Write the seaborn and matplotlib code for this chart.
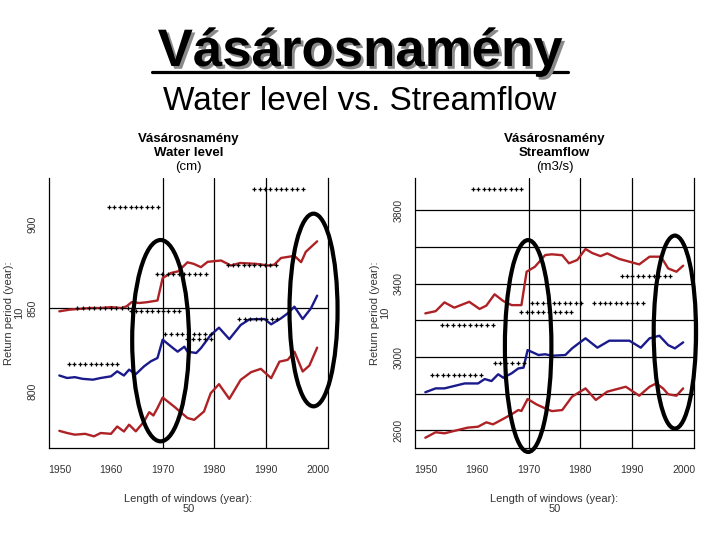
import numpy as np
import pandas as pd
import matplotlib
matplotlib.use("Agg")
import matplotlib.pyplot as plt
import seaborn as sns
from matplotlib.patches import Ellipse
from matplotlib.lines import Line2D
import matplotlib.patheffects as pe

# ---------------- data: water level (cm) ----------------
wl_high_years = [1950, 1952, 1954, 1956, 1958, 1960, 1962, 1963, 1964, 1965.5, 1967, 1969, 1970,
                 1971.6, 1973, 1974.8, 1976, 1977.4, 1978.7, 1981.3, 1983.2, 1985, 1988, 1990.5,
                 1991.6, 1992.9, 1995.5, 1996.8, 1997.7, 1999.9]
wl_high_vals = [848, 849, 849.5, 850, 850, 850.5, 850, 851, 853.5, 853, 853.5, 854.5, 868,
                871, 872, 877.4, 876.5, 874.5, 877.7, 878.5, 875.5, 877, 876.5, 875.5,
                876, 880, 881.3, 877.5, 883.7, 890]

wl_mid_years = [1950, 1951.5, 1953, 1954.5, 1956.5, 1958, 1960, 1961.2, 1962.5, 1963.5, 1964.8,
                1966.4, 1967.7, 1969, 1970, 1971.9, 1972.9, 1974.2, 1974.8, 1976.5, 1977.4,
                1979.3, 1980.9, 1982.9, 1985.1, 1986.8, 1989.7, 1991, 1992.9, 1994.2, 1995.5,
                1997.1, 1998.7, 1999.9]
wl_mid_vals = [809.5, 808, 808.5, 807.5, 807, 808, 809, 812, 809.5, 813, 810.3,
               815, 818, 820, 831, 826.2, 823.8, 826.8, 823.8, 823, 825.9,
               833.8, 838.2, 831.3, 839.8, 843.2, 843.4, 840.2, 843.8, 846.8, 850.8,
               843.4, 849.8, 857.4]

wl_low_years = [1950, 1951.5, 1953, 1955, 1956.7, 1958, 1960, 1961.2, 1962.5, 1963.5, 1964.8,
                1966.4, 1967.4, 1968.2, 1969, 1970, 1972.2, 1974.8, 1976.1, 1978, 1979.3,
                1980.9, 1982.9, 1985.1, 1987.1, 1989, 1991, 1992.6, 1994.2, 1995.5, 1997.1,
                1998.4, 1999.9]
wl_low_vals = [776.3, 775, 774, 774.5, 773, 775, 774.5, 778.9, 775.9, 780, 776,
               781.9, 787.5, 785.5, 790, 796.3, 790.9, 784, 782.9, 787.9, 798.9,
               804.3, 795.5, 806.9, 811.5, 813.5, 807.9, 817.8, 818.9, 823.8, 811.9,
               815.5, 826.2]

# dotted reference segments (start year, end year, value, number of dots)
wl_seg_start = [1959.6, 1968.9, 1953.5, 1963.8, 1970.5, 1974.8, 1951.9, 1984.8, 1982.6, 1987.7]
wl_seg_end = [1969.0, 1978.3, 1963.2, 1973.2, 1979.3, 1979.3, 1961.2, 1992.2, 1991.9, 1997.1]
wl_seg_val = [910.7, 870.2, 850.0, 848.2, 834.4, 831.4, 816.3, 843.4, 875.7, 921.7]
wl_seg_n = [10, 10, 10, 10, 9, 5, 10, 8, 10, 10]

# highlight ellipses (centre year, centre value, width in years, height in units)
wl_ell_x = [1969.6, 1999.2]
wl_ell_y = [830.4, 848.8]
wl_ell_w = [11.0, 9.3]
wl_ell_h = [120.8, 115.6]

# ---------------- data: streamflow (m3/s) ----------------
q_high_years = [1950, 1952, 1953.7, 1955.6, 1958.5, 1960.5, 1961.8, 1963.4, 1965.1, 1966.7, 1968.6,
                1969.6, 1971.2, 1973.2, 1974.5, 1976.5, 1977.8, 1979.4, 1981, 1982.3, 1983.9,
                1985.2, 1987.5, 1991.4, 1993.4, 1995.6, 1997, 1998.6, 1999.9]
q_high_vals = [3238, 3250, 3298, 3269, 3301, 3262, 3280, 3342, 3305, 3283, 3283,
               3465, 3492, 3556, 3560, 3555, 3511, 3529, 3589, 3567, 3550,
               3565, 3535, 3505, 3547, 3547, 3483, 3465, 3498]

q_mid_years = [1950, 1952, 1953.7, 1956.3, 1957.6, 1960.2, 1961.5, 1962.8, 1964.1, 1965.1, 1966.7,
               1968, 1969, 1969.8, 1971.9, 1973.2, 1974.5, 1977.1, 1978.4, 1979.7, 1981,
               1983.3, 1985.6, 1989.5, 1991.7, 1993.4, 1995.3, 1997, 1998.3, 1999.9]
q_mid_vals = [2808, 2829, 2829, 2847, 2856, 2856, 2880, 2869, 2906, 2887, 2911,
              2938, 2942, 3038, 3011, 3015, 3007, 3011, 3047, 3075, 3102,
              3051, 3089, 3089, 3051, 3102, 3116, 3065, 3047, 3080]

q_low_years = [1950, 1952, 1953.7, 1956.3, 1958.2, 1960.2, 1961.8, 1963.1, 1964.7, 1966.7, 1968,
               1968.6, 1969.8, 1971.5, 1973.2, 1974.5, 1976.5, 1978.4, 1981, 1983, 1985.2,
               1988.8, 1991.4, 1993.4, 1994.7, 1996, 1997, 1998.6, 1999.9]
q_low_vals = [2560, 2590, 2584, 2602, 2615, 2620, 2644, 2633, 2657, 2688, 2711,
              2706, 2771, 2742, 2720, 2705, 2711, 2784, 2829, 2766, 2811,
              2838, 2789, 2838, 2856, 2829, 2797, 2789, 2829]

q_seg_start = [1959.2, 1953.2, 1951.3, 1963.4, 1970.6, 1968.6, 1982.7, 1988.0]
q_seg_end = [1968.6, 1963.0, 1960.7, 1969.0, 1980.2, 1978.2, 1992.1, 1997.4]
q_seg_val = [3916, 3174, 2902, 2966, 3294, 3245, 3294, 3441]
q_seg_n = [10, 10, 10, 6, 10, 10, 10, 10]

q_ell_x = [1969.9, 1998.3]
q_ell_y = [3060, 3136]
q_ell_w = [9.0, 8.2]
q_ell_h = [1155, 1052]

x_ticks = [1950, 1960, 1970, 1980, 1990, 2000]
v_grid = [1970, 1980, 1990]
wl_yticks = [800, 850, 900]
wl_hgrid = [850]
q_yticks = [2600, 3000, 3400, 3800]
q_hgrid = [2600, 2800, 3000, 3200, 3400, 3600, 3800]

RED = "#AE2226"
BLUE = "#1A1A8C"

sns.set_theme(style="white")
plt.rcParams['font.family'] = ['Liberation Sans', 'DejaVu Sans']

fig = plt.figure(figsize=(7.2, 5.4), dpi=100)
fig.patch.set_facecolor("white")

W, H = 720, 540
ax1 = fig.add_axes([49 / W, 92 / H, 279 / W, 270 / H])
ax2 = fig.add_axes([415 / W, 92 / H, 279 / W, 270 / H])


def draw_panel(ax, series, seg, ell, yticks, hgrid, ylim, title_lines):
    for yrs, vals, col in series:
        df = pd.DataFrame({"year": yrs, "value": vals})
        sns.lineplot(data=df, x="year", y="value", color=col, lw=1.7,
                     estimator=None, ax=ax)
    for vx in v_grid:
        ax.axvline(vx, color="black", lw=0.9, zorder=1)
    for hy in hgrid:
        ax.axhline(hy, color="black", lw=0.9, zorder=1)
    s0, s1, sv, sn = seg
    for a, b, v, n in zip(s0, s1, sv, sn):
        xs = np.linspace(a, b, n)
        ax.plot(xs, [v] * n, ls="none", marker="+", ms=2.6, mew=0.9,
                color="black", zorder=4)
    ex, ey, ew, eh = ell
    for cx, cy, w_, h_ in zip(ex, ey, ew, eh):
        ax.add_patch(Ellipse((cx, cy), w_, h_, fill=False, edgecolor="black",
                             lw=3.0, clip_on=False, zorder=5))
    ax.set_xlim(1948, 2002)
    ax.set_ylim(*ylim)
    ax.set_xticks(x_ticks)
    ax.set_yticks(yticks)
    ax.set_xlabel("")
    ax.set_ylabel("")
    ax.tick_params(axis="both", length=0, labelsize=7.5, colors="#333333")
    ax.tick_params(axis="x", pad=12)
    ax.tick_params(axis="y", pad=8, labelrotation=90)
    for lab in ax.get_yticklabels():
        lab.set_verticalalignment("center")
    ax.spines["top"].set_visible(False)
    for sp in ["left", "bottom", "right"]:
        ax.spines[sp].set_visible(True)
        ax.spines[sp].set_color("black")
        ax.spines[sp].set_linewidth(0.9)
    ax.grid(False)
    ax.set_facecolor("white")

    pos = ax.get_position()
    cx = (pos.x0 + pos.x1) / 2
    ys = [142, 156, 170]
    weights = ["bold", "bold", "normal"]
    for t, yy, wt in zip(title_lines, ys, weights):
        fig.text(cx, 1 - yy / H, t, ha="center", va="baseline", fontsize=9.5,
                 fontweight=wt, color="black")
    fig.text(cx, 1 - 504 / H, "Length of windows (year):\n50", ha="center",
             va="center", fontsize=8, color="#333333", linespacing=1.1)


draw_panel(ax1,
           [(wl_high_years, wl_high_vals, RED), (wl_mid_years, wl_mid_vals, BLUE),
            (wl_low_years, wl_low_vals, RED)],
           (wl_seg_start, wl_seg_end, wl_seg_val, wl_seg_n),
           (wl_ell_x, wl_ell_y, wl_ell_w, wl_ell_h),
           wl_yticks, wl_hgrid, (766, 928),
           ["Vásárosnamény", "Water level", "(cm)"])

draw_panel(ax2,
           [(q_high_years, q_high_vals, RED), (q_mid_years, q_mid_vals, BLUE),
            (q_low_years, q_low_vals, RED)],
           (q_seg_start, q_seg_end, q_seg_val, q_seg_n),
           (q_ell_x, q_ell_y, q_ell_w, q_ell_h),
           q_yticks, q_hgrid, (2504, 3976),
           ["Vásárosnamény", "Streamflow", "(m3/s)"])

# y labels
for xc in [14, 380]:
    fig.text(xc / W, 1 - 313 / H, "Return period (year):\n10", rotation=90,
             ha="center", va="center", fontsize=8, color="#333333",
             multialignment="center", linespacing=1.1)

# big slide title with shadow and underline
shadow = [pe.withSimplePatchShadow(offset=(2, -2), shadow_rgbFace="#8a8a8a", alpha=1.0)]
fig.text(360 / W, 1 - 66 / H, "Vásárosnamény", ha="center", va="baseline",
         fontsize=38, fontweight="bold", color="black", path_effects=shadow)
ul = Line2D([152 / W, 568 / W], [1 - 72 / H, 1 - 72 / H], transform=fig.transFigure,
            color="black", lw=2.3, path_effects=shadow)
fig.add_artist(ul)
fig.text(360 / W, 1 - 110 / H, "Water level vs. Streamflow", ha="center",
         va="baseline", fontsize=24, color="black")

fig.savefig("out.png", dpi=100, facecolor="white")
